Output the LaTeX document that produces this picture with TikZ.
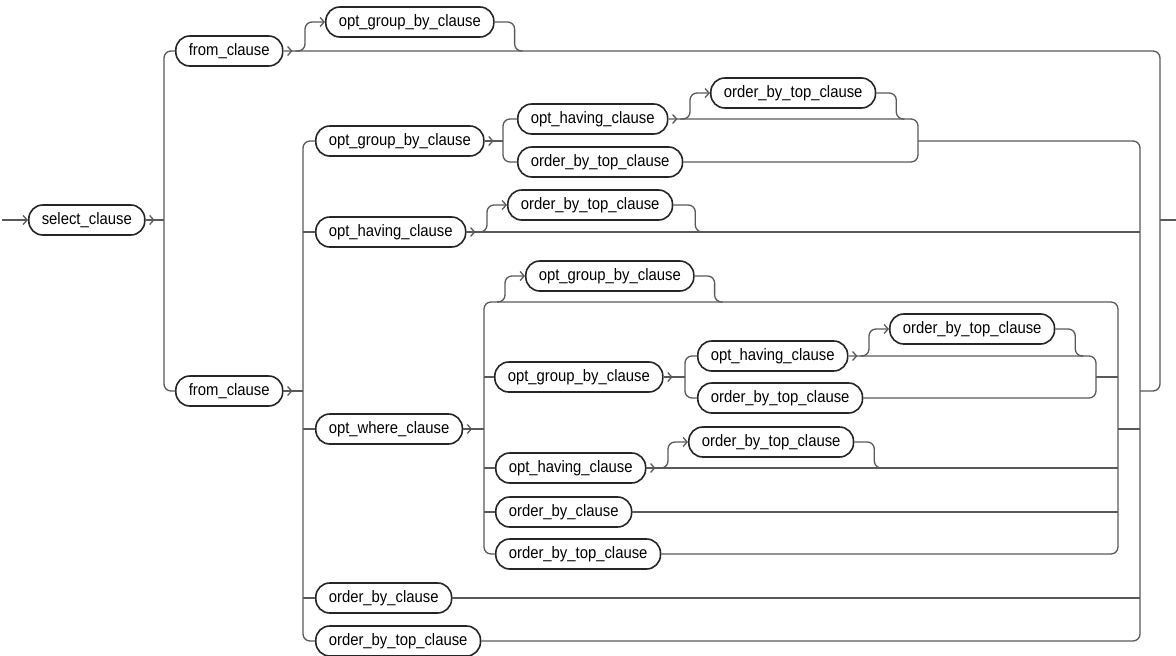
\documentclass[tikz,border=0pt]{standalone}
\usepackage{fontspec}
\setmainfont[FakeStretch=0.9]{Liberation Sans}
\usetikzlibrary{arrows.meta,decorations.markings}

\begin{document}
\begin{tikzpicture}[x=1pt,y=-1pt,
    rule/.style={draw=black!85, line width=1.6pt, rounded corners=14pt, inner xsep=13pt, inner ysep=0pt,
      minimum height=30pt, anchor=west, font=\fontsize{16.5}{18}\selectfont},
    track/.style={draw=black!65, line width=1.3pt, rounded corners=7pt},
    enter/.style={track, -{Straight Barb[length=4pt,width=9pt]}},
    chev/.style={track, postaction={decorate},
      decoration={markings, mark=at position 9pt with {\arrow{Straight Barb[length=4pt,width=9pt]}}}}]
  \useasboundingbox (0,0) rectangle (1176,656);
  % split and merge points
  \coordinate (in) at (2,220);
  \coordinate (out) at (1176,220);
  \coordinate (s1) at (164,220);
  \coordinate (m1) at (1160,220);
  \coordinate (s2) at (303,391);
  \coordinate (m2) at (1140,391);
  \coordinate (s3) at (503,141);
  \coordinate (m3) at (918,141);
  \coordinate (s4) at (484,429);
  \coordinate (m4) at (1118,429);
  \coordinate (wtop) at (484,302);
  \coordinate (s5) at (685,377);
  \coordinate (m5) at (1096,377);
  % boxes
  \node[rule] (sel) at (28,220) {select\_clause};
  \node[rule] (fromA) at (175,51) {from\_clause};
  \node[rule] (gbA) at (325,22) {opt\_group\_by\_clause};
  \node[rule] (fromB) at (175,391) {from\_clause};
  \node[rule] (gbB) at (315,141) {opt\_group\_by\_clause};
  \node[rule] (havB) at (517,119) {opt\_having\_clause};
  \node[rule] (obtB) at (710,93) {order\_by\_top\_clause};
  \node[rule] (obtBb) at (517,162) {order\_by\_top\_clause};
  \node[rule] (havC) at (315,232) {opt\_having\_clause};
  \node[rule] (obtC) at (507,205) {order\_by\_top\_clause};
  \node[rule] (where) at (315,429) {opt\_where\_clause};
  \node[rule] (gbD) at (525,276) {opt\_group\_by\_clause};
  \node[rule] (gbE) at (494,377) {opt\_group\_by\_clause};
  \node[rule] (havE) at (697,356) {opt\_having\_clause};
  \node[rule] (obtE) at (889,329) {order\_by\_top\_clause};
  \node[rule] (obtEb) at (697,398) {order\_by\_top\_clause};
  \node[rule] (havF) at (495,468) {opt\_having\_clause};
  \node[rule] (obtF) at (688,442) {order\_by\_top\_clause};
  \node[rule] (obF) at (495,512) {order\_by\_clause};
  \node[rule] (obtFb) at (495,554) {order\_by\_top\_clause};
  \node[rule] (obG) at (315,598) {order\_by\_clause};
  \node[rule] (obtG) at (315,641) {order\_by\_top\_clause};
  % outer choice
  \draw[enter] (in) -- (sel);
  \draw[chev] (sel) -- (s1);
  \draw[track] (fromA) -| (s1) |- (fromB);
  \draw[chev] (fromA) -| (m1) |- (m2);
  \draw[track] (m1) -- (out);
  \draw[enter] ([xshift=12pt]fromA.east) -| ([xshift=-20pt]gbA.west) -- (gbA);
  \draw[track] (gbA.east) -| ++(20,29) -- ++(8,0);
  % second from_clause branch
  \draw[chev] (fromB) -- (s2);
  \draw[track] (obtG) -| (s2) |- (gbB);
  \draw[track] (s2 |- havC) -- (havC);
  \draw[track] (s2 |- where) -- (where);
  \draw[track] (s2 |- obG) -- (obG);
  \draw[track] (m3) -| (m2) |- (obtG);
  \draw[chev] (havC) -- (havC -| m2);
  \draw[track] (obG) -- (obG -| m2);
  \draw[track] (m4) -- (m4 -| m2);
  \draw[enter] ([xshift=12pt]havC.east) -| ([xshift=-20pt]obtC.west) -- (obtC);
  \draw[track] (obtC.east) -| ++(22,27) -- ++(8,0);
  % opt_group_by_clause choice
  \draw[chev] (gbB) -- (s3);
  \draw[track] (havB) -| (s3) |- (obtBb);
  \draw[chev] (havB) -| (m3) |- (obtBb);
  \draw[enter] ([xshift=12pt]havB.east) -| ([xshift=-20pt]obtB.west) -- (obtB);
  \draw[track] (obtB.east) -| ++(20,26) -- ++(8,0);
  % opt_where_clause block
  \draw[chev] (where) -- (s4);
  \draw[track] (obtFb) -| (wtop) -| (m4) |- (obtFb);
  \draw[track] (s4 |- gbE) -- (gbE);
  \draw[track] (s4 |- havF) -- (havF);
  \draw[track] (s4 |- obF) -- (obF);
  \draw[enter] ([xshift=13pt]wtop) -| ([xshift=-20pt]gbD.west) -- (gbD);
  \draw[track] (gbD.east) -| ++(20,26) -- ++(8,0);
  \draw[chev] (gbE) -- (s5);
  \draw[track] (havE) -| (s5) |- (obtEb);
  \draw[chev] (havE) -| (m5) |- (obtEb);
  \draw[track] (m5) -- (m4 |- m5);
  \draw[enter] ([xshift=12pt]havE.east) -| ([xshift=-20pt]obtE.west) -- (obtE);
  \draw[track] (obtE.east) -| ++(20,27) -- ++(8,0);
  \draw[chev] (havF) -- (havF -| m4);
  \draw[track] (obF) -- (obF -| m4);
  \draw[enter] ([xshift=12pt]havF.east) -| ([xshift=-20pt]obtF.west) -- (obtF);
  \draw[track] (obtF.east) -| ++(20,26) -- ++(8,0);
\end{tikzpicture}
\end{document}
